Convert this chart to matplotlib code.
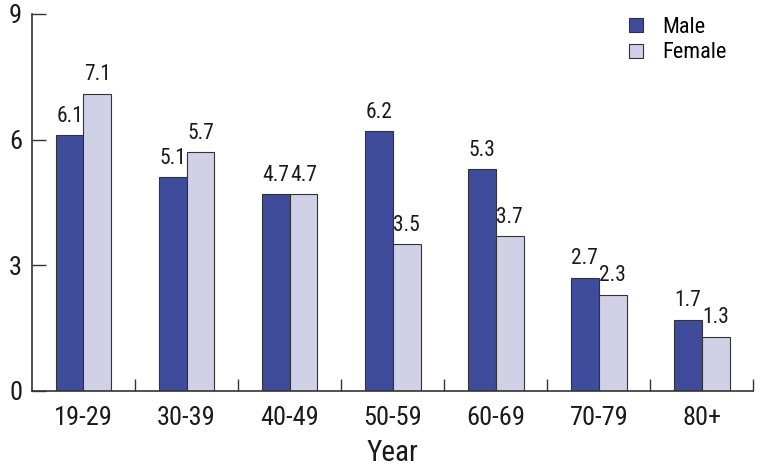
import matplotlib.pyplot as plt
import numpy as np
from matplotlib import font_manager

# pick a condensed face if one is installed (the reference uses a narrow sans)
fonts = font_manager.fontManager.ttflist
names = {f.name for f in fonts}
family, stretch = 'Liberation Sans', 'normal'
for cand in ('Liberation Sans Narrow', 'Roboto Condensed', 'Open Sans Condensed'):
    if cand in names:
        family = cand
        break
else:
    if any('DejaVuSansCondensed' in f.fname for f in fonts):
        family, stretch = 'DejaVu Sans', 'condensed'
plt.rcParams['font.family'] = [family, 'DejaVu Sans']
plt.rcParams['font.stretch'] = stretch

groups = ['19-29', '30-39', '40-49', '50-59', '60-69', '70-79', '80+']
male = [6.1, 5.1, 4.7, 6.2, 5.3, 2.7, 1.7]
female = [7.1, 5.7, 4.7, 3.5, 3.7, 2.3, 1.3]

MALE_C = '#3F4B9B'
FEMALE_C = '#D0D0E6'
EDGE = '#333333'
TXT = '#1a1a1a'

fig = plt.figure(figsize=(7.61, 4.66), dpi=100)
ax = fig.add_axes([0.042, 0.161, 0.948, 0.809])

x = np.arange(len(groups))
w = 0.27
b1 = ax.bar(x - w/2, male, w, color=MALE_C, edgecolor=EDGE, linewidth=0.8, label='Male')
b2 = ax.bar(x + w/2, female, w, color=FEMALE_C, edgecolor=EDGE, linewidth=0.8, label='Female')

for bars, vals in ((b1, male), (b2, female)):
    for r, v in zip(bars, vals):
        ax.text(r.get_x() + r.get_width()/2, v + 0.2, f'{v:.1f}',
                ha='center', va='bottom', fontsize=15.5, color=TXT)

ax.set_xlim(-0.5, len(groups) - 0.5)
ax.set_ylim(0, 9)
ax.set_yticks([0, 3, 6, 9])
ax.set_xticks(x)
ax.set_xticklabels(groups)
ax.set_xticks(np.arange(len(groups)) + 0.5, minor=True)
ax.tick_params(axis='x', which='major', length=0, labelsize=19, pad=11, colors=TXT)
ax.tick_params(axis='x', which='minor', direction='in', length=9, width=1, color='#333333')
ax.tick_params(axis='y', direction='in', length=10, width=1, labelsize=19, pad=7,
               color='#333333', labelcolor=TXT)
for s in ('top', 'right'):
    ax.spines[s].set_visible(False)
for s in ('left', 'bottom'):
    ax.spines[s].set_color('#333333')
    ax.spines[s].set_linewidth(1.2)

ax.set_xlabel('Year', fontsize=21, color=TXT, labelpad=6)
ax.legend(loc='upper right', bbox_to_anchor=(0.991, 1.045), frameon=False, fontsize=16,
          handlelength=0.6, handleheight=0.6, handletextpad=0.9, labelspacing=0.2)

fig.savefig('out.png', dpi=100)
